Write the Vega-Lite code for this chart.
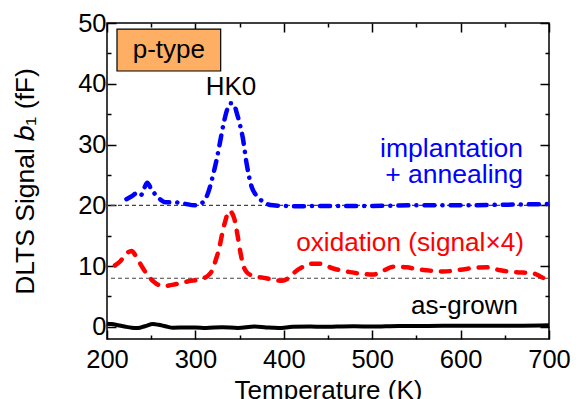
{
  "$schema": "https://vega.github.io/schema/vega-lite/v6.json",
  "width": 442,
  "height": 316,
  "autosize": {"type": "none"},
  "padding": {"left": 107, "top": 23, "right": 31, "bottom": 60},
  "background": "white",
  "config": {
    "view": {"stroke": "black", "strokeWidth": 1.5},
    "font": "Liberation Sans",
    "text": {"font": "Liberation Sans", "fontSize": 26}
  },
  "datasets": {
    "asgrown": [
      {"T": 200, "b": 0.5}, {"T": 205, "b": 0.45}, {"T": 210, "b": 0.35}, {"T": 220, "b": 0.05},
      {"T": 228, "b": -0.15}, {"T": 235, "b": -0.2}, {"T": 243, "b": 0.1}, {"T": 252, "b": 0.45},
      {"T": 258, "b": 0.35}, {"T": 266, "b": 0.1}, {"T": 275, "b": -0.15}, {"T": 290, "b": -0.1},
      {"T": 300, "b": -0.1}, {"T": 312, "b": -0.2}, {"T": 330, "b": -0.05}, {"T": 348, "b": -0.2},
      {"T": 367, "b": 0.05}, {"T": 380, "b": -0.1}, {"T": 394, "b": -0.2}, {"T": 410, "b": 0},
      {"T": 430, "b": 0.05}, {"T": 445, "b": 0}, {"T": 460, "b": 0.05}, {"T": 480, "b": 0.1},
      {"T": 500, "b": 0.05}, {"T": 530, "b": 0.15}, {"T": 560, "b": 0.15}, {"T": 600, "b": 0.2},
      {"T": 640, "b": 0.2}, {"T": 670, "b": 0.2}, {"T": 700, "b": 0.25}
    ],
    "oxidation": [
      {"T": 209, "b": 10.1}, {"T": 215, "b": 10.8}, {"T": 220, "b": 11.7}, {"T": 224, "b": 12.3},
      {"T": 228, "b": 12.5}, {"T": 232, "b": 11.8}, {"T": 236, "b": 10.8}, {"T": 245, "b": 8.7},
      {"T": 254, "b": 7.3}, {"T": 263, "b": 6.7}, {"T": 270, "b": 6.8}, {"T": 277, "b": 7.0},
      {"T": 292, "b": 7.5}, {"T": 307, "b": 7.9}, {"T": 314, "b": 8.4}, {"T": 319, "b": 9.3},
      {"T": 323, "b": 11}, {"T": 327, "b": 13}, {"T": 331, "b": 15.8}, {"T": 334, "b": 17.5},
      {"T": 338, "b": 19.1}, {"T": 341, "b": 18.8}, {"T": 344, "b": 17.8}, {"T": 348, "b": 14.8},
      {"T": 351, "b": 12.2}, {"T": 354, "b": 10.2}, {"T": 358, "b": 9.0}, {"T": 365, "b": 8.4},
      {"T": 380, "b": 8.0}, {"T": 390, "b": 7.7}, {"T": 398, "b": 7.6}, {"T": 405, "b": 8.0},
      {"T": 414, "b": 9.2}, {"T": 422, "b": 9.9}, {"T": 430, "b": 10.4}, {"T": 440, "b": 10.4},
      {"T": 456, "b": 9.6}, {"T": 475, "b": 9.0}, {"T": 501, "b": 8.6}, {"T": 512, "b": 9.2},
      {"T": 524, "b": 9.9}, {"T": 539, "b": 9.8}, {"T": 550, "b": 9.5}, {"T": 562, "b": 9.3},
      {"T": 580, "b": 9.1}, {"T": 600, "b": 9.4}, {"T": 615, "b": 9.7}, {"T": 630, "b": 9.8},
      {"T": 645, "b": 9.3}, {"T": 663, "b": 9.0}, {"T": 682, "b": 8.8}, {"T": 690, "b": 8.3},
      {"T": 695, "b": 7.9}, {"T": 700, "b": 7.3}
    ],
    "implant": [
      {"T": 222, "b": 21.0}, {"T": 228, "b": 21.5}, {"T": 235, "b": 22.1}, {"T": 238.5, "b": 21.7},
      {"T": 242, "b": 22.8}, {"T": 245.5, "b": 23.7}, {"T": 250, "b": 22.7}, {"T": 254, "b": 21.9},
      {"T": 260, "b": 21.0}, {"T": 266, "b": 20.5}, {"T": 277, "b": 20.5}, {"T": 288, "b": 20.25},
      {"T": 299, "b": 20.0}, {"T": 307, "b": 20.35}, {"T": 312, "b": 21.2}, {"T": 316, "b": 22.8},
      {"T": 320, "b": 25}, {"T": 324, "b": 27.5}, {"T": 328, "b": 30.5}, {"T": 332, "b": 33.5},
      {"T": 336, "b": 35.8}, {"T": 340, "b": 36.8}, {"T": 343, "b": 36.7}, {"T": 347, "b": 35.1},
      {"T": 350, "b": 33.5}, {"T": 353.5, "b": 31.2}, {"T": 358, "b": 26.8}, {"T": 363.5, "b": 23.1},
      {"T": 368, "b": 21.8}, {"T": 373, "b": 21.0}, {"T": 380, "b": 20.3}, {"T": 388, "b": 20.0},
      {"T": 400, "b": 19.9}, {"T": 415, "b": 19.85}, {"T": 450, "b": 19.9}, {"T": 500, "b": 19.9},
      {"T": 550, "b": 20.0}, {"T": 600, "b": 20.0}, {"T": 650, "b": 20.1}, {"T": 700, "b": 20.2}
    ]
  },
  "resolve": {"axis": {"x": "independent", "y": "independent"}},
  "layer": [
    {
      "data": {"values": [{"T1": 211.3, "T2": 328.6, "b1": 42.1, "b2": 49.0}]},
      "mark": {"type": "rect", "fill": "#FFAF64", "stroke": "black", "strokeWidth": 1.2},
      "encoding": {
        "x": {"field": "T1", "type": "quantitative", "scale": {"domain": [200, 700], "nice": false, "zero": false},
          "axis": {
            "orient": "bottom", "values": [200, 250, 300, 350, 400, 450, 500, 550, 600, 650, 700],
            "labelExpr": "datum.value % 100 === 0 ? datum.label : ''",
            "tickSize": {"condition": {"test": "datum.value % 100 === 0", "value": -9}, "value": -4},
            "tickColor": "black", "tickWidth": 1.5, "domain": false, "grid": false,
            "labelFont": "Liberation Sans", "labelFontSize": 25.5, "labelColor": "black", "labelPadding": 17,
            "labelFlush": false, "labelOverlap": false, "format": "d",
            "title": "Temperature (K)", "titleFont": "Liberation Sans", "titleFontSize": 26,
            "titleFontWeight": "normal", "titleColor": "black", "titlePadding": 0
          }},
        "x2": {"field": "T2"},
        "y": {"field": "b1", "type": "quantitative", "scale": {"domain": [-2, 50], "nice": false, "zero": false},
          "axis": {
            "orient": "left", "values": [0, 5, 10, 15, 20, 25, 30, 35, 40, 45, 50],
            "labelExpr": "datum.value % 10 === 0 ? datum.label : ''",
            "tickSize": {"condition": {"test": "datum.value % 10 === 0", "value": -9}, "value": -4},
            "tickColor": "black", "tickWidth": 1.5, "domain": false, "grid": false,
            "labelFont": "Liberation Sans", "labelFontSize": 25.5, "labelColor": "black", "labelPadding": 10,
            "labelFlush": false, "labelOverlap": false, "format": "d",
            "title": "DLTS Signal 𝑏₁ (fF)", "titleFont": "Liberation Sans", "titleFontSize": 26.5,
            "titleFontWeight": "normal", "titleColor": "black", "titlePadding": 38
          }},
        "y2": {"field": "b2"}
      }
    },
    {
      "data": {"values": [{"b": 20}, {"b": 8}]},
      "mark": {"type": "rule", "color": "#444444", "strokeWidth": 1.2, "strokeDash": [4, 3]},
      "encoding": {
        "y": {"field": "b", "type": "quantitative", "scale": {"domain": [-2, 50], "nice": false, "zero": false}, "axis": null}
      }
    },
    {
      "data": {"name": "asgrown"},
      "mark": {"type": "line", "color": "black", "strokeWidth": 4, "interpolate": "monotone"},
      "encoding": {
        "x": {"field": "T", "type": "quantitative", "scale": {"domain": [200, 700], "nice": false, "zero": false},
          "axis": {
            "orient": "top", "values": [200, 250, 300, 350, 400, 450, 500, 550, 600, 650, 700],
            "labels": false, "title": null,
            "tickSize": {"condition": {"test": "datum.value % 100 === 0", "value": -9}, "value": -4},
            "tickColor": "black", "tickWidth": 1.5, "domain": false, "grid": false
          }},
        "y": {"field": "b", "type": "quantitative", "scale": {"domain": [-2, 50], "nice": false, "zero": false},
          "axis": {
            "orient": "right", "values": [0, 5, 10, 15, 20, 25, 30, 35, 40, 45, 50],
            "labels": false, "title": null,
            "tickSize": {"condition": {"test": "datum.value % 10 === 0", "value": -9}, "value": -4},
            "tickColor": "black", "tickWidth": 1.5, "domain": false, "grid": false
          }}
      }
    },
    {
      "data": {"name": "oxidation"},
      "mark": {"type": "line", "color": "#FF0000", "strokeWidth": 4.5, "interpolate": "monotone", "strokeDash": [9, 10], "strokeCap": "round"},
      "encoding": {
        "x": {"field": "T", "type": "quantitative", "scale": {"domain": [200, 700], "nice": false, "zero": false}, "axis": null},
        "y": {"field": "b", "type": "quantitative", "scale": {"domain": [-2, 50], "nice": false, "zero": false}, "axis": null}
      }
    },
    {
      "data": {"name": "implant"},
      "mark": {"type": "line", "color": "#0000FF", "strokeWidth": 4.5, "interpolate": "monotone", "strokeDash": [10, 8, 0.1, 8], "strokeCap": "round"},
      "encoding": {
        "x": {"field": "T", "type": "quantitative", "scale": {"domain": [200, 700], "nice": false, "zero": false}, "axis": null},
        "y": {"field": "b", "type": "quantitative", "scale": {"domain": [-2, 50], "nice": false, "zero": false}, "axis": null}
      }
    },
    {
      "data": {"values": [{"T": 270, "b": 45.5, "label": "p-type"}]},
      "mark": {"type": "text", "color": "black", "align": "center", "baseline": "middle", "fontSize": 26},
      "encoding": {
        "x": {"field": "T", "type": "quantitative", "scale": {"domain": [200, 700], "nice": false, "zero": false}, "axis": null},
        "y": {"field": "b", "type": "quantitative", "scale": {"domain": [-2, 50], "nice": false, "zero": false}, "axis": null},
        "text": {"field": "label"}
      }
    },
    {
      "data": {"values": [{"T": 340.3, "b": 38.1, "label": "HK0"}]},
      "mark": {"type": "text", "color": "black", "align": "center", "baseline": "alphabetic", "fontSize": 26},
      "encoding": {
        "x": {"field": "T", "type": "quantitative", "scale": {"domain": [200, 700], "nice": false, "zero": false}, "axis": null},
        "y": {"field": "b", "type": "quantitative", "scale": {"domain": [-2, 50], "nice": false, "zero": false}, "axis": null},
        "text": {"field": "label"}
      }
    },
    {
      "data": {"values": [{"T": 665, "b": 2.1, "label": "as-grown"}]},
      "mark": {"type": "text", "color": "black", "align": "right", "baseline": "alphabetic", "fontSize": 26},
      "encoding": {
        "x": {"field": "T", "type": "quantitative", "scale": {"domain": [200, 700], "nice": false, "zero": false}, "axis": null},
        "y": {"field": "b", "type": "quantitative", "scale": {"domain": [-2, 50], "nice": false, "zero": false}, "axis": null},
        "text": {"field": "label"}
      }
    },
    {
      "data": {"values": [{"T": 670.6, "b": 27.9, "label": "implantation"}, {"T": 670.6, "b": 23.6, "label": "+ annealing"}]},
      "mark": {"type": "text", "color": "#0000FF", "align": "right", "baseline": "alphabetic", "fontSize": 26.5},
      "encoding": {
        "x": {"field": "T", "type": "quantitative", "scale": {"domain": [200, 700], "nice": false, "zero": false}, "axis": null},
        "y": {"field": "b", "type": "quantitative", "scale": {"domain": [-2, 50], "nice": false, "zero": false}, "axis": null},
        "text": {"field": "label"}
      }
    },
    {
      "data": {"values": [{"T": 671.7, "b": 12.54, "label": "oxidation (signal×4)"}]},
      "mark": {"type": "text", "color": "#FF0000", "align": "right", "baseline": "alphabetic", "fontSize": 26.2},
      "encoding": {
        "x": {"field": "T", "type": "quantitative", "scale": {"domain": [200, 700], "nice": false, "zero": false}, "axis": null},
        "y": {"field": "b", "type": "quantitative", "scale": {"domain": [-2, 50], "nice": false, "zero": false}, "axis": null},
        "text": {"field": "label"}
      }
    }
  ]
}
